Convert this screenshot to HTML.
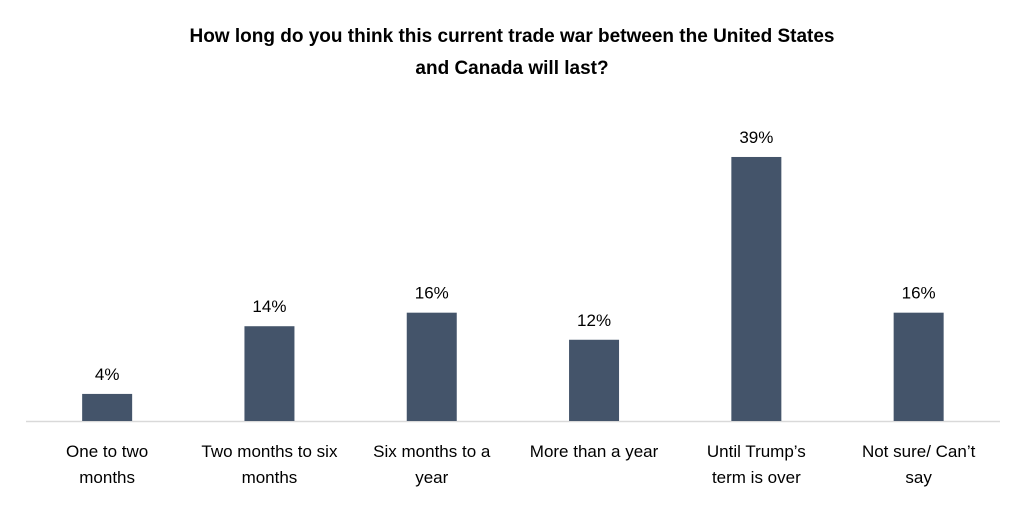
<!DOCTYPE html>
<html><head><meta charset="utf-8"><style>
body{margin:0;background:#fff;width:1024px;height:505px;overflow:hidden}
text{font-family:"Liberation Sans",sans-serif;fill:#000}
</style></head><body>
<svg id="chart" width="1024" height="505" xmlns="http://www.w3.org/2000/svg">
<text x="512" y="42" text-anchor="middle" font-size="19" font-weight="bold">How long do you think this current trade war between the United States</text>
<text x="512" y="74" text-anchor="middle" font-size="19" font-weight="bold">and Canada will last?</text>
<line x1="26" y1="421.5" x2="1000" y2="421.5" stroke="#d9d9d9" stroke-width="1.5"/>
<g id="bars"></g>
</svg>
<script>
const categories=[["One to two","months"],["Two months to six","months"],["Six months to a","year"],["More than a year"],["Until Trump\u2019s","term is over"],["Not sure/ Can\u2019t","say"]];
const values=[4,14,16,12,39,16];
const valueLabels=["4%","14%","16%","12%","39%","16%"];
const left=26,bandW=162.3,base=421,pxPer=6.77,barW=50;
const x=i=>left+bandW*i+bandW/2;
const y=v=>base-v*pxPer;
const g=document.getElementById('bars');
const ns='http://www.w3.org/2000/svg';
values.forEach((v,i)=>{
 const r=document.createElementNS(ns,'rect');
 
 
 r.setAttribute('x',x(i)-barW/2);r.setAttribute('y',y(v));
 r.setAttribute('width',barW);r.setAttribute('height',base-y(v));
 r.setAttribute('fill','#44546a');g.appendChild(r);
 const t=document.createElementNS(ns,'text');
 
 
 t.setAttribute('x',x(i));t.setAttribute('y',y(v)-14);
 t.setAttribute('text-anchor','middle');t.setAttribute('font-size','17');
 t.textContent=valueLabels[i];g.appendChild(t);
 categories[i].forEach((line,j)=>{
  const c=document.createElementNS(ns,'text');
  
  
  c.setAttribute('x',x(i));c.setAttribute('y',457+j*26);
  c.setAttribute('text-anchor','middle');c.setAttribute('font-size','17');
  c.textContent=line;g.appendChild(c);
 });
});
</script>
</body></html>
